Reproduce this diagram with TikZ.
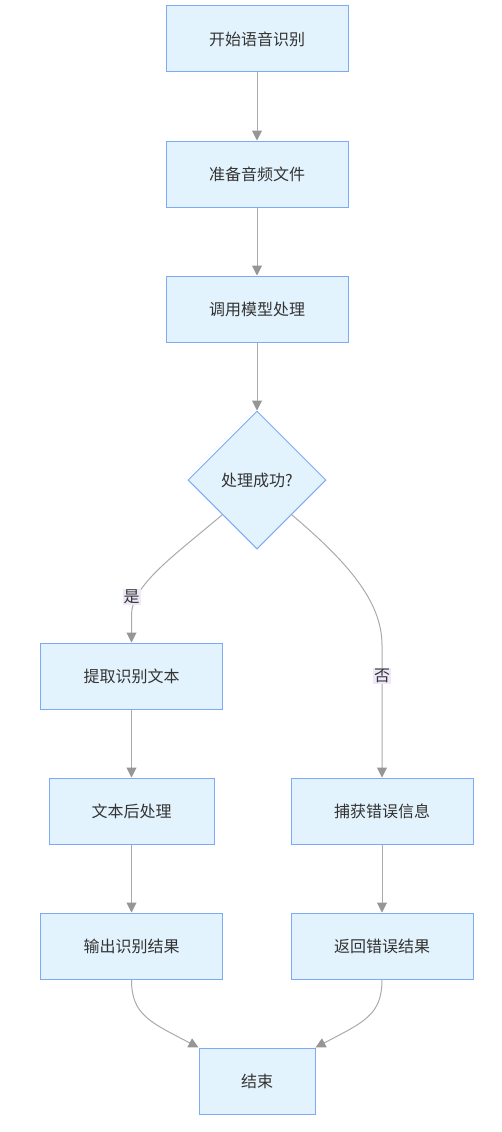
\documentclass[tikz,border=0pt]{standalone}
\usepackage{fontspec}
\setmainfont{Noto Sans CJK SC}
\usetikzlibrary{arrows.meta, shapes.geometric}

\begin{document}
\begin{tikzpicture}[
    x=1pt, y=-1pt,
    every node/.style={font=\fontsize{16}{19}\selectfont, text=textoGris},
    % Estilo para las cajas de proceso
    caja/.style={
        draw=bordeAzul, fill=fondoAzul, line width=1pt,
        minimum width=182pt, minimum height=66pt, inner sep=0pt
    },
    % Estilo para la decision (rombo)
    decision/.style={
        diamond, draw=bordeAzul, fill=fondoAzul, line width=1pt,
        minimum width=138pt, minimum height=138pt, inner sep=0pt
    },
    % Estilo para los conectores
    flecha/.style={
        line width=1pt, lineaGris,
        -{Triangle[length=10pt, width=10pt, fill=puntaGris, color=puntaGris]}
    },
    % Estilo para las etiquetas de las ramas
    etiqueta/.style={
        fill=fondoEtiqueta, inner sep=1pt
    }
]
    % --- DEFINICIÓN DE COLORES ---
    \definecolor{fondoAzul}{RGB}{227, 243, 253}
    \definecolor{bordeAzul}{RGB}{125, 170, 245}
    \definecolor{textoGris}{RGB}{51, 51, 51}
    \definecolor{lineaGris}{RGB}{170, 170, 170}
    \definecolor{puntaGris}{RGB}{150, 150, 150}
    \definecolor{fondoEtiqueta}{RGB}{238, 232, 248}

    % --- PARÁMETROS ---
    \def\xC{257}
    \def\xI{131.5}
    \def\xD{382}

    \useasboundingbox (0, 0) rectangle (502, 1132);

    % 1. Rama principal
    \node[caja] (inicio)  at (\xC, 39)  {开始语音识别};
    \node[caja] (audio)   at (\xC, 174) {准备音频文件};
    \node[caja] (modelo)  at (\xC, 309) {调用模型处理};
    \node[decision] (exito) at (\xC, 480) {处理成功?};

    % 2. Rama "si"
    \node[caja] (extraer) at (\xI, 676) {提取识别文本};
    \node[caja, minimum width=165pt] (posproc) at (\xI, 811) {文本后处理};
    \node[caja] (salida)  at (\xI, 946) {输出识别结果};

    % 3. Rama "no"
    \node[caja] (captura) at (\xD, 811) {捕获错误信息};
    \node[caja] (retorno) at (\xD, 946) {返回错误结果};

    % 4. Fin
    \node[caja, minimum width=116pt] (fin) at (\xC, 1081) {结束};

    % 5. Conectores rectos
    \draw[flecha] (inicio) -- (audio);
    \draw[flecha] (audio) -- (modelo);
    \draw[flecha] (modelo) -- (exito);
    \draw[flecha] (extraer) -- (posproc);
    \draw[flecha] (posproc) -- (salida);
    \draw[flecha] (captura) -- (retorno);

    % 6. Ramas de la decision
    \draw[flecha] (exito.south west)
        .. controls (175, 555) and (\xI, 585) .. (\xI, 615) -- (extraer.north);
    \draw[flecha] (exito.south east)
        .. controls (345, 560) and (\xD, 600) .. (\xD, 645) -- (captura.north);
    \node[etiqueta] (si) at (\xI, 597) {是};
    \node[etiqueta] (no) at (\xD, 676) {否};

    % 7. Union hacia el fin
    \draw[flecha] (salida.south)
        .. controls (\xI, 1015) and (150, 1022) .. (fin.north west);
    \draw[flecha] (retorno.south)
        .. controls (\xD, 1015) and (364, 1022) .. (fin.north east);

\end{tikzpicture}
\end{document}
